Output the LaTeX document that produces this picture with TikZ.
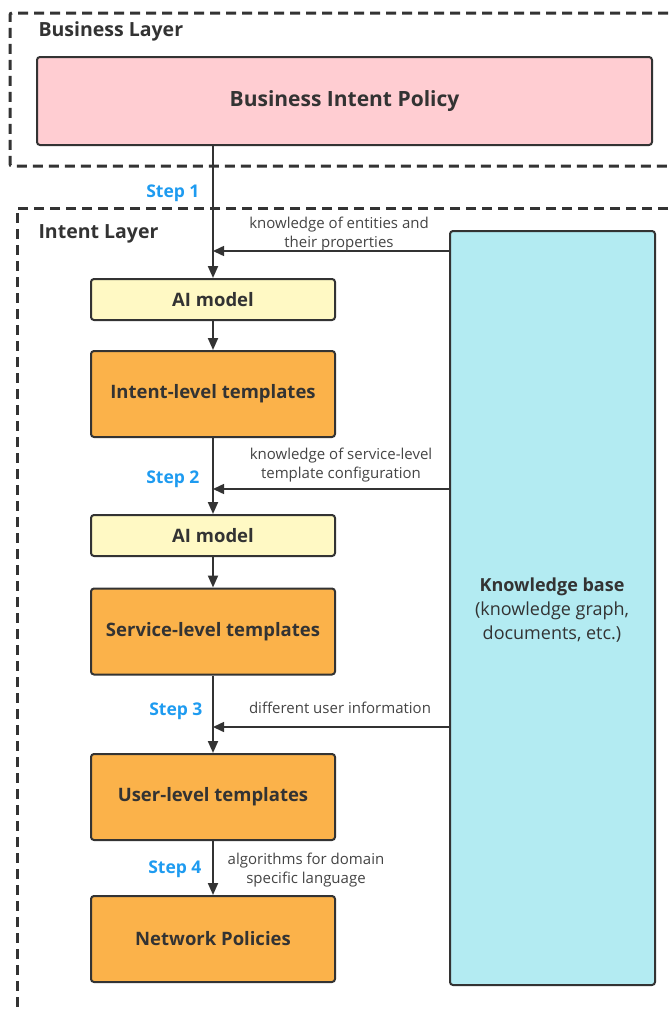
\documentclass[tikz,border=0pt]{standalone}
\usepackage{fontspec}
\setmainfont{Open Sans}
\usetikzlibrary{arrows.meta}
\definecolor{pinkfill}{HTML}{FFCDD2}
\definecolor{yelfill}{HTML}{FFF9C4}
\definecolor{orfill}{HTML}{FBB24A}
\definecolor{kbfill}{HTML}{B3EBF2}
\definecolor{linec}{HTML}{333333}
\definecolor{stepc}{HTML}{1E9BF0}
\definecolor{notec}{HTML}{444444}
\tikzset{
  box/.style={draw=linec, line width=2pt, rounded corners=3pt, minimum width=244pt, align=center, inner sep=0pt, font=\bfseries\fontsize{18.5}{22}\selectfont, text=linec},
  aibox/.style={box, fill=yelfill, minimum height=41pt},
  tplbox/.style={box, fill=orfill, minimum height=86pt},
  layer/.style={draw=linec, line width=3pt, dash pattern=on 10pt off 6pt},
  layerlabel/.style={anchor=west, font=\bfseries\fontsize{19.5}{23}\selectfont, text=linec},
  flow/.style={draw=linec, line width=2pt, -{Triangle[length=12pt,width=10pt]}},
  side/.style={draw=linec, line width=1.5pt, -{Triangle[length=11pt,width=10pt]}},
  steplabel/.style={font=\bfseries\fontsize{17.5}{21}\selectfont, text=stepc},
  note/.style={font=\fontsize{15}{18.5}\selectfont, text=notec, align=center, inner sep=0pt},
}
\begin{document}
\begin{tikzpicture}[x=1pt,y=-1pt]
\useasboundingbox (0,0) rectangle (669,1009);
\clip (0,0) rectangle (669,1009);
% layers
\draw[layer] (700,13) -- (13,13) [rounded corners=2pt] -- (10,13) -- (10,166) -- (700,166);
\draw[layer] (700,208) -- (19,208) -- (17,208) -- (17,1040);
\node[layerlabel] (bl) at (35,31.5) {Business Layer};
\node[layerlabel] (il) at (35,233.5) {Intent Layer};
% boxes
\node[box, fill=pinkfill, minimum width=615pt, minimum height=88pt, font=\bfseries\fontsize{21}{25}\selectfont] (bip) at (344.5,101) {\raisebox{-2pt}{Business Intent Policy}};
\node[aibox] (ai1) at (213,299.5) {\raisebox{-1pt}{AI model}};
\node[tplbox] (it) at (213,394) {\raisebox{-2pt}{Intent-level templates}};
\node[aibox] (ai2) at (213,535.5) {\raisebox{-1pt}{AI model}};
\node[tplbox] (st) at (213,631.5) {\raisebox{-2pt}{Service-level templates}};
\node[tplbox] (ut) at (213,797) {\raisebox{-2pt}{User-level templates}};
\node[tplbox] (np) at (213,939) {\raisebox{-2pt}{Network Policies}};
\node[draw=linec, line width=2pt, rounded corners=3pt, fill=kbfill, minimum width=205pt, minimum height=754pt, inner sep=0pt] (kb) at (552.5,608) {};
\node[align=center, text=linec, font=\fontsize{18}{24}\selectfont] (kbt) at (552,610) {\textbf{Knowledge base}\\(knowledge graph,\\documents, etc.)};
% flow
\coordinate (j1) at (213,251);
\coordinate (j2) at (213,489);
\coordinate (j3) at (213,727);
\draw[flow] (bip.south -| ai1.north) -- (ai1.north);
\draw[flow] (ai1) -- (it);
\draw[flow] (it) -- (ai2);
\draw[flow] (ai2) -- (st);
\draw[flow] (st) -- (ut);
\draw[flow] (ut) -- (np);
\draw[side] (kb.west |- j1) -- (j1);
\draw[side] (kb.west |- j2) -- (j2);
\draw[side] (kb.west |- j3) -- (j3);
% labels
\node[steplabel, anchor=east] (s1) at (203,193.5) {Step 1};
\node[steplabel, anchor=east] (s2) at (203,479.5) {Step 2};
\node[steplabel, anchor=east] (s3) at (206,711.5) {Step 3};
\node[steplabel, anchor=east] (s4) at (205,869.5) {Step 4};
\node[note] (n1) at (339,234) {knowledge of entities and\\their properties};
\node[note] (n2) at (341,465) {knowledge of service-level\\template configuration};
\node[note] (n3) at (340,708) {different user information};
\node[note] (n4) at (306,870) {algorithms for domain\\specific language};
\end{tikzpicture}
\end{document}
